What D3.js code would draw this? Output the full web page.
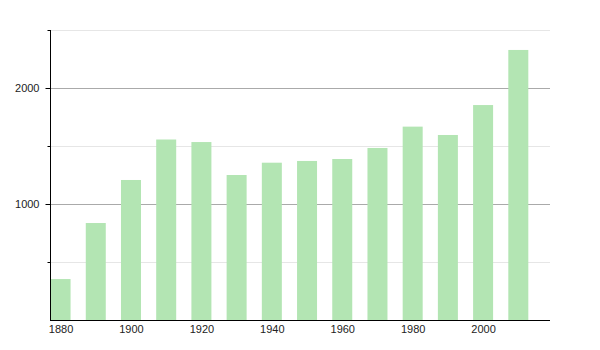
<!DOCTYPE html>
<html><head><meta charset="utf-8">
<script src="https://cdn.jsdelivr.net/npm/d3@7"></script>
<style>body{margin:0;background:#fff;} svg{display:block;font-family:"Liberation Sans",Arial,sans-serif;}</style>
</head><body>
<svg id="c" width="600" height="350"></svg>
<script>
const years = [1880,1890,1900,1910,1920,1930,1940,1950,1960,1970,1980,1990,2000,2010];
const population = [353,836,1207,1556,1534,1250,1356,1371,1388,1483,1667,1595,1853,2328];
const yMajorTicks = [1000,2000];
const yMinorTicks = [500,1500,2500];
const xTickLabels = [1880,1900,1920,1940,1960,1980,2000];

(function () {
const svg = d3.select("#c");
const mLeft = 50, mRight = 550, mTop = 30, mBottom = 320;
const x = d3.scaleLinear().domain([1877, 2019]).range([mLeft, mRight]);
const y = d3.scaleLinear().domain([0, 2500]).range([mBottom, mTop]);
const barW = 20;

// gridlines
svg.append("g").selectAll("line").data(yMinorTicks).join("line")
  .attr("x1", mLeft).attr("x2", mRight)
  .attr("y1", d => Math.round(y(d)) + 0.5).attr("y2", d => Math.round(y(d)) + 0.5)
  .attr("stroke", "#e6e6e6");
svg.append("g").selectAll("line").data(yMajorTicks).join("line")
  .attr("x1", mLeft).attr("x2", mRight)
  .attr("y1", d => Math.round(y(d)) + 0.5).attr("y2", d => Math.round(y(d)) + 0.5)
  .attr("stroke", "#aaaaaa");

// bars
svg.append("g").selectAll("rect").data(years).join("rect")
  .attr("x", d => x(d) - barW / 2)
  .attr("width", barW)
  .attr("y", (d, i) => y(population[i]))
  .attr("height", (d, i) => mBottom - y(population[i]))
  .attr("fill", "#b3e5b3");

// y axis
const yAxis = d3.axisLeft(y).tickValues(yMajorTicks).tickSize(5).tickPadding(6).tickFormat(d3.format("d"));
const gy = svg.append("g").attr("transform", `translate(${mLeft + 0.5},0)`).call(yAxis);
gy.select(".domain").attr("d", `M0,${mTop}V${mBottom}`).attr("stroke", "#000");
gy.selectAll(".tick line").attr("stroke", "#000");
gy.selectAll("text").attr("font-size", 11).attr("fill", "#222").attr("font-family", "Liberation Sans, Arial, sans-serif");
const yMinor = d3.axisLeft(y).tickValues(yMinorTicks).tickSize(3).tickFormat("");
const gym = svg.append("g").attr("transform", `translate(${mLeft + 0.5},0)`).call(yMinor);
gym.select(".domain").remove();
gym.selectAll(".tick line").attr("stroke", "#000");

// x axis
const xAxis = d3.axisBottom(x).tickValues(xTickLabels).tickSize(0).tickPadding(5).tickFormat(d3.format("d"));
const gx = svg.append("g").attr("transform", `translate(0,${mBottom + 0.5})`).call(xAxis);
gx.select(".domain").attr("d", `M${mLeft},0H${mRight}`).attr("stroke", "#000");
gx.selectAll("text").attr("font-size", 11).attr("fill", "#222").attr("font-family", "Liberation Sans, Arial, sans-serif");
})();
</script>
</body></html>
